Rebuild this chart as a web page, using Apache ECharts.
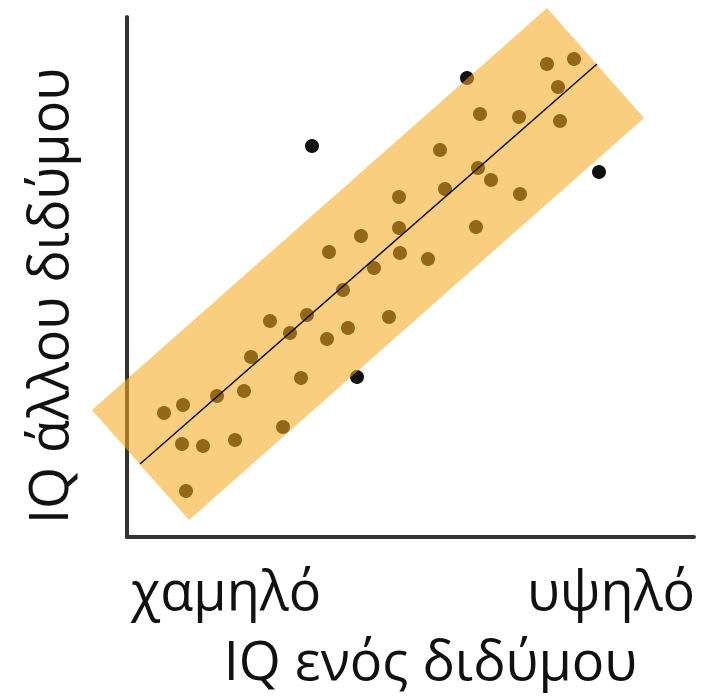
<!DOCTYPE html>
<html>
<head>
<meta charset="utf-8">
<script src="https://cdn.jsdelivr.net/npm/echarts@6/dist/echarts.min.js"></script>
<style>html,body{margin:0;padding:0;background:#fff}#c{width:715px;height:700px}</style>
</head>
<body>
<div id="c"></div>
<script>
// IQ of one twin (x) vs IQ of the other twin (y), arbitrary units (0 = axis origin)
const twinX = [37, 56, 55, 76, 59, 90, 117, 108, 124, 143, 163, 180, 156, 174, 200, 221, 202, 216, 234, 247, 262, 272, 272, 273, 301, 313, 318, 349, 351, 364, 393, 353, 392, 420, 447, 431, 433, 340, 185, 472, 230];
const twinY = [124, 132, 93, 91, 46, 141, 146, 97, 180, 216, 204, 222, 110, 159, 198, 209, 285, 247, 301, 269, 220, 340, 309, 284, 278, 387, 348, 310, 369, 357, 343, 423, 420, 473, 478, 450, 416, 459, 391, 365, 160];
// regression line end points
const fitX = [13, 470];
const fitY = [73, 473];
// band around the fit (rotated rectangle corners)
const bandX = [-35, 420, 517, 62];
const bandY = [127, 529, 419, 17];
const axisMax = [567, 520];
const tickLabels = ['χαμηλό', 'υψηλό'];
const tickValues = [99, 484];
const xTitle = 'IQ ενός διδύμου';
const yTitle = 'IQ άλλου διδύμου';

const chart = echarts.init(document.getElementById('c'), null, {renderer: 'svg'});
const axisCommon = {
  type: 'value', min: 0,
  axisLine: {show: true, lineStyle: {color: '#333', width: 4}},
  axisTick: {show: false}, axisLabel: {show: false}, splitLine: {show: false}
};
chart.setOption({
  animation: false,
  grid: {left: 127, right: 21, top: 17, bottom: 163},
  xAxis: Object.assign({}, axisCommon, {max: axisMax[0]}),
  yAxis: Object.assign({}, axisCommon, {max: axisMax[1]}),
  series: [
    {
      type: 'scatter', z: 1, symbolSize: 14,
      itemStyle: {color: '#111', opacity: 1},
      data: twinX.map((x, i) => [x, twinY[i]])
    },
    {
      type: 'custom', z: 2, clip: false, silent: true,
      data: [0],
      renderItem: function (params, api) {
        const pts = bandX.map((x, i) => api.coord([x, bandY[i]]));
        return {type: 'polygon', shape: {points: pts}, style: {fill: 'rgba(244,168,28,0.57)'}};
      }
    },
    {
      type: 'line', z: 3, showSymbol: false, silent: true,
      lineStyle: {color: '#111', width: 1.5},
      data: fitX.map((x, i) => [x, fitY[i]])
    }
  ]
});

function px(v) { return chart.convertToPixel({xAxisIndex: 0, yAxisIndex: 0}, v); }
const xMid = px([axisMax[0] / 2, 0]);
const yMid = px([0, axisMax[1] / 2]);
const labelStyle = {fill: '#111', fontFamily: 'Open Sans', fontSize: 54, align: 'center', verticalAlign: 'middle'};
const graphics = tickLabels.map((t, i) => ({
  type: 'text', x: px([tickValues[i], 0])[0], y: 589,
  style: Object.assign({text: t}, labelStyle)
}));
graphics.push({type: 'text', x: xMid[0] + 20, y: 659, style: Object.assign({text: xTitle}, labelStyle)});
graphics.push({type: 'text', x: 47, y: yMid[1] + 19, rotation: Math.PI / 2, style: Object.assign({text: yTitle}, labelStyle)});
chart.setOption({graphic: graphics});
</script>
</body>
</html>
